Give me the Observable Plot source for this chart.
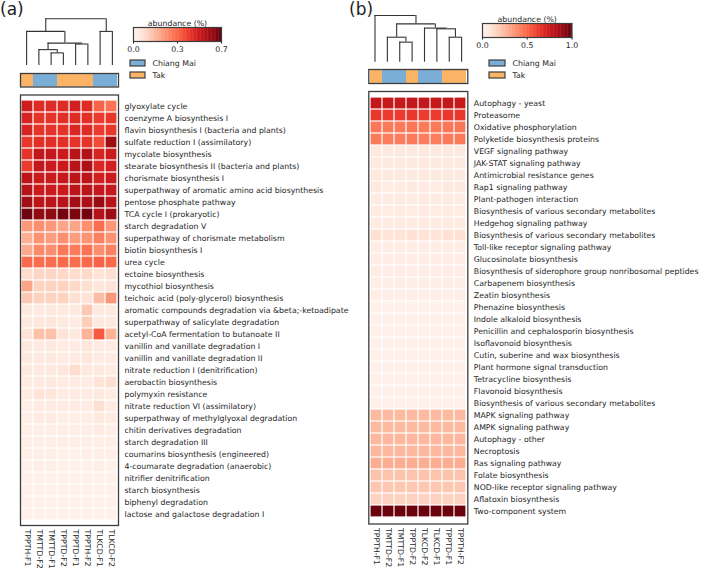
<!DOCTYPE html>
<html>
<head>
<meta charset="utf-8">
<script src="https://cdn.jsdelivr.net/npm/d3@7"></script>
<script src="https://cdn.jsdelivr.net/npm/@observablehq/plot@0.6"></script>
<style>
  body { margin: 0; background: #fff; }
  #fig { position: relative; width: 702px; height: 569px; overflow: hidden; background: #fff;
         font-family: "DejaVu Sans", sans-serif; color: #1e1e1e; }
  #fig svg { position: absolute; left: 0; top: 0; }
  .plabel { position: absolute; font-size: 17px; line-height: 1; color: #1e1e1e; }
</style>
</head>
<body>
<div id="fig">
  <div class="plabel" style="left:0px;top:1px;">(a)</div>
  <div class="plabel" style="left:349px;top:1px;">(b)</div>
</div>
<script>
// ---------------- DATA ----------------
const groupNames = ["Chiang Mai", "Tak"];
const groupColors = ["#7aaed6", "#fbb466"];

// Panel (a)
const colsA = ["TPPTH-F1","TMTTD-F2","TMTTD-F1","TPPTD-F2","TPPTD-F1","TPPTH-F2","TLKCD-F1","TLKCD-F2"];
const groupsA = ["Tak","Chiang Mai","Chiang Mai","Tak","Tak","Tak","Chiang Mai","Chiang Mai"];
const rowsA = [
  "glyoxylate cycle",
  "coenzyme A biosynthesis I",
  "flavin biosynthesis I (bacteria and plants)",
  "sulfate reduction I (assimilatory)",
  "mycolate biosynthesis",
  "stearate biosynthesis II (bacteria and plants)",
  "chorismate biosynthesis I",
  "superpathway of aromatic amino acid biosynthesis",
  "pentose phosphate pathway",
  "TCA cycle I (prokaryotic)",
  "starch degradation V",
  "superpathway of chorismate metabolism",
  "biotin biosynthesis I",
  "urea cycle",
  "ectoine biosynthesis",
  "mycothiol biosynthesis",
  "teichoic acid (poly-glycerol) biosynthesis",
  "aromatic compounds degradation via &beta;-ketoadipate",
  "superpathway of salicylate degradation",
  "acetyl-CoA fermentation to butanoate II",
  "vanillin and vanillate degradation I",
  "vanillin and vanillate degradation II",
  "nitrate reduction I (denitrification)",
  "aerobactin biosynthesis",
  "polymyxin resistance",
  "nitrate reduction VI (assimilatory)",
  "superpathway of methylglyoxal degradation",
  "chitin derivatives degradation",
  "starch degradation III",
  "coumarins biosynthesis (engineered)",
  "4-coumarate degradation (anaerobic)",
  "nitrifier denitrification",
  "starch biosynthesis",
  "biphenyl degradation",
  "lactose and galactose degradation I"
];
const valuesA = [
  [0.52,0.48,0.48,0.48,0.51,0.48,0.36,0.33],
  [0.50,0.46,0.46,0.47,0.48,0.47,0.44,0.45],
  [0.50,0.46,0.46,0.46,0.49,0.48,0.44,0.45],
  [0.45,0.47,0.47,0.47,0.46,0.46,0.41,0.62],
  [0.46,0.55,0.54,0.53,0.57,0.58,0.50,0.53],
  [0.44,0.54,0.53,0.53,0.57,0.59,0.49,0.51],
  [0.56,0.53,0.53,0.54,0.56,0.56,0.51,0.53],
  [0.57,0.53,0.53,0.53,0.56,0.56,0.54,0.54],
  [0.61,0.56,0.56,0.57,0.61,0.59,0.63,0.57],
  [0.69,0.64,0.64,0.68,0.67,0.68,0.58,0.62],
  [0.25,0.27,0.25,0.22,0.22,0.27,0.34,0.25],
  [0.20,0.26,0.24,0.27,0.24,0.26,0.30,0.26],
  [0.21,0.28,0.27,0.32,0.31,0.33,0.27,0.30],
  [0.35,0.34,0.34,0.35,0.34,0.35,0.36,0.35],
  [0.09,0.11,0.11,0.10,0.09,0.10,0.07,0.08],
  [0.22,0.12,0.12,0.12,0.10,0.08,0.06,0.07],
  [0.14,0.12,0.12,0.12,0.08,0.07,0.17,0.25],
  [0.05,0.05,0.05,0.05,0.05,0.14,0.05,0.05],
  [0.05,0.06,0.06,0.05,0.04,0.13,0.05,0.05],
  [0.07,0.16,0.16,0.07,0.05,0.19,0.38,0.19],
  [0.05,0.05,0.05,0.04,0.04,0.06,0.04,0.04],
  [0.05,0.05,0.05,0.04,0.04,0.06,0.04,0.04],
  [0.05,0.05,0.05,0.06,0.09,0.05,0.05,0.04],
  [0.04,0.05,0.05,0.04,0.04,0.04,0.07,0.08],
  [0.04,0.07,0.06,0.04,0.04,0.04,0.05,0.04],
  [0.03,0.04,0.04,0.04,0.04,0.04,0.08,0.04],
  [0.03,0.04,0.04,0.03,0.03,0.03,0.05,0.04],
  [0.03,0.03,0.03,0.03,0.03,0.03,0.04,0.03],
  [0.03,0.03,0.03,0.03,0.03,0.03,0.03,0.03],
  [0.03,0.03,0.03,0.02,0.02,0.03,0.03,0.03],
  [0.02,0.03,0.03,0.02,0.02,0.02,0.03,0.02],
  [0.02,0.02,0.02,0.02,0.02,0.02,0.02,0.02],
  [0.02,0.02,0.02,0.02,0.02,0.02,0.02,0.02],
  [0.02,0.02,0.02,0.02,0.02,0.02,0.02,0.02],
  [0.02,0.02,0.02,0.02,0.02,0.02,0.02,0.02]
];
// dendrogram (a): [left, right, height]; leaves 0..7 in column order, new clusters 8..
const linkageA = [[2,3,0.27],[1,8,0.34],[4,5,0.46],[9,10,0.48],[0,11,0.73],[6,7,0.73],[12,13,1.0]];
const colorMaxA = 0.7;
const cbTicksA = [0, 0.35, 0.7];
const cbLabelsA = ["0.0", "0.3", "0.7"];

// Panel (b)
const colsB = ["TPPTH-F1","TMTTD-F2","TMTTD-F1","TPPTD-F2","TLKCD-F2","TLKCD-F1","TPPTD-F1","TPPTH-F2"];
const groupsB = ["Tak","Chiang Mai","Chiang Mai","Tak","Chiang Mai","Chiang Mai","Tak","Tak"];
const rowsB = [
  "Autophagy - yeast",
  "Proteasome",
  "Oxidative phosphorylation",
  "Polyketide biosynthesis proteins",
  "VEGF signaling pathway",
  "JAK-STAT signaling pathway",
  "Antimicrobial resistance genes",
  "Rap1 signaling pathway",
  "Plant-pathogen interaction",
  "Biosynthesis of various secondary metabolites",
  "Hedgehog signaling pathway",
  "Biosynthesis of various secondary metabolites",
  "Toll-like receptor signaling pathway",
  "Glucosinolate biosynthesis",
  "Biosynthesis of siderophore group nonribosomal peptides",
  "Carbapenem biosynthesis",
  "Zeatin biosynthesis",
  "Phenazine biosynthesis",
  "Indole alkaloid biosynthesis",
  "Penicillin and cephalosporin biosynthesis",
  "Isoflavonoid biosynthesis",
  "Cutin, suberine and wax biosynthesis",
  "Plant hormone signal transduction",
  "Tetracycline biosynthesis",
  "Flavonoid biosynthesis",
  "Biosynthesis of various secondary metabolites",
  "MAPK signaling pathway",
  "AMPK signaling pathway",
  "Autophagy - other",
  "Necroptosis",
  "Ras signaling pathway",
  "Folate biosynthesis",
  "NOD-like receptor signaling pathway",
  "Aflatoxin biosynthesis",
  "Two-component system"
];
const valuesB = [
  [0.78,0.77,0.77,0.78,0.78,0.77,0.78,0.77],
  [0.64,0.63,0.63,0.64,0.63,0.63,0.64,0.64],
  [0.46,0.45,0.45,0.46,0.45,0.45,0.46,0.46],
  [0.45,0.44,0.44,0.45,0.44,0.44,0.45,0.45],
  [0.07,0.07,0.07,0.07,0.07,0.07,0.07,0.07],
  [0.07,0.07,0.07,0.07,0.07,0.07,0.07,0.07],
  [0.07,0.07,0.07,0.07,0.07,0.07,0.07,0.07],
  [0.07,0.06,0.06,0.07,0.06,0.06,0.07,0.07],
  [0.06,0.06,0.06,0.06,0.06,0.06,0.06,0.06],
  [0.06,0.06,0.06,0.06,0.06,0.06,0.06,0.06],
  [0.06,0.06,0.06,0.06,0.06,0.06,0.06,0.06],
  [0.11,0.10,0.10,0.11,0.10,0.10,0.11,0.11],
  [0.05,0.05,0.05,0.05,0.05,0.05,0.05,0.05],
  [0.05,0.05,0.05,0.05,0.05,0.05,0.05,0.05],
  [0.05,0.05,0.05,0.05,0.05,0.05,0.05,0.05],
  [0.04,0.04,0.04,0.04,0.04,0.04,0.04,0.04],
  [0.04,0.04,0.04,0.04,0.04,0.04,0.04,0.04],
  [0.03,0.03,0.03,0.03,0.03,0.03,0.03,0.03],
  [0.03,0.03,0.03,0.03,0.03,0.03,0.03,0.03],
  [0.03,0.03,0.03,0.03,0.03,0.03,0.03,0.03],
  [0.03,0.03,0.03,0.03,0.03,0.03,0.03,0.03],
  [0.03,0.03,0.03,0.03,0.03,0.03,0.03,0.03],
  [0.03,0.03,0.03,0.03,0.03,0.03,0.03,0.03],
  [0.03,0.03,0.03,0.03,0.03,0.03,0.03,0.03],
  [0.03,0.03,0.03,0.03,0.03,0.03,0.03,0.03],
  [0.03,0.03,0.03,0.03,0.03,0.03,0.03,0.03],
  [0.25,0.25,0.25,0.25,0.25,0.25,0.25,0.25],
  [0.25,0.25,0.25,0.25,0.25,0.25,0.25,0.25],
  [0.26,0.26,0.26,0.26,0.26,0.26,0.26,0.26],
  [0.26,0.26,0.26,0.26,0.26,0.26,0.26,0.26],
  [0.29,0.29,0.29,0.29,0.29,0.29,0.29,0.29],
  [0.22,0.22,0.22,0.22,0.22,0.22,0.22,0.22],
  [0.21,0.21,0.21,0.21,0.21,0.21,0.21,0.21],
  [0.17,0.17,0.17,0.17,0.17,0.17,0.17,0.17],
  [0.99,0.99,0.99,0.99,0.99,0.99,0.99,0.99]
];
const linkageB = [[2,3,0.43],[1,8,0.535],[6,7,0.535],[5,10,0.715],[4,11,0.73],[9,12,0.82],[0,13,1.0]];
const colorMaxB = 1.0;
const cbTicksB = [0, 0.5, 1.0];
const cbLabelsB = ["0.0", "0.5", "1.0"];

// ---------------- LAYOUT ----------------
const W = 702, H = 569;
const FONT = "'DejaVu Sans', sans-serif";
const FS = "7.8px";
const INK = "#1e1e1e";

const layoutA = {
  heat: {x0: 20, x1: 118, y0: 94.5, y1: 525},
  group: {y0: 73, y1: 86.5},
  dendro: {top: 18.3, bottom: 65},
  cbar: {x0: 133, x1: 221, y0: 27, y1: 41},
  legend: {x0: 130, x1: 145, y0: 57, y1: 81}
};
const layoutB = {
  heat: {x0: 368.3, x1: 467.3, y0: 91, y1: 523.5},
  group: {y0: 69, y1: 83},
  dendro: {top: 15, bottom: 61.7},
  cbar: {x0: 482, x1: 571.5, y0: 23, y1: 37},
  legend: {x0: 489, x1: 505, y0: 57, y1: 81}
};

const fig = document.getElementById("fig");
function add(svg) { fig.appendChild(svg); }
function base(box) {
  return {
    width: W, height: H,
    marginLeft: box.x0, marginRight: W - box.x1,
    marginTop: box.y0, marginBottom: H - box.y1,
    style: {background: "none", fontFamily: FONT, fontSize: FS, color: INK, overflow: "visible"}
  };
}

function heatmap(cols, rows, values, cmax, L) {
  const data = rows.flatMap((r, i) => cols.map((c, j) => ({row: i, col: c, v: values[i][j]})));
  return Plot.plot({
    ...base(L.heat),
    x: {type: "band", domain: cols, padding: 0, axis: "bottom", tickRotate: 90, tickSize: 0, tickPadding: 4, label: null},
    y: {type: "band", domain: d3.range(rows.length), padding: 0, axis: "right", tickSize: 0, tickPadding: 6,
        tickFormat: i => rows[i], label: null},
    color: {type: "linear", scheme: "reds", domain: [0, cmax], clamp: true},
    marks: [
      Plot.cell(data, {x: "col", y: "row", fill: "v", inset: 0.6}),
      Plot.frame({stroke: "#3c3c3c", strokeWidth: 1.3})
    ]
  });
}

function groupBar(cols, groups, L) {
  const box = {x0: L.heat.x0, x1: L.heat.x1, y0: L.group.y0, y1: L.group.y1};
  return Plot.plot({
    ...base(box),
    x: {type: "band", domain: cols, padding: 0, axis: null},
    color: {domain: groupNames, range: groupColors},
    marks: [
      Plot.cell(cols.map((c, i) => ({col: c, g: groups[i]})), {x: "col", fill: "g"}),
      Plot.frame({stroke: "#3c3c3c", strokeWidth: 1.3})
    ]
  });
}

function dendrogram(n, linkage, L) {
  const nodes = d3.range(n).map(i => ({x: i + 0.5, h: 0}));
  const verts = [], hors = [];
  for (const [a, b, h] of linkage) {
    const A = nodes[a], B = nodes[b];
    verts.push({x: A.x, y1: A.h, y2: h}, {x: B.x, y1: B.h, y2: h});
    hors.push({y: h, x1: A.x, x2: B.x});
    nodes.push({x: (A.x + B.x) / 2, h});
  }
  const box = {x0: L.heat.x0, x1: L.heat.x1, y0: L.dendro.top, y1: L.dendro.bottom};
  return Plot.plot({
    ...base(box),
    x: {type: "linear", domain: [0, n], axis: null},
    y: {type: "linear", domain: [0, d3.max(linkage, d => d[2])], axis: null},
    marks: [
      Plot.ruleX(verts, {x: "x", y1: "y1", y2: "y2", stroke: "#333", strokeWidth: 1.1}),
      Plot.ruleY(hors, {y: "y", x1: "x1", x2: "x2", stroke: "#333", strokeWidth: 1.1})
    ]
  });
}

function colorbar(cmax, ticks, labels, L) {
  const N = 64;
  const stripes = d3.range(N).map(i => ({a: i / N * cmax, b: (i + 1) / N * cmax}));
  const lab = new Map(ticks.map((t, i) => [t, labels[i]]));
  return Plot.plot({
    ...base(L.cbar),
    x: {type: "linear", domain: [0, cmax], ticks: ticks, tickFormat: d => lab.get(d), tickSize: 2.5, tickPadding: 2, label: null},
    color: {type: "linear", scheme: "reds", domain: [0, cmax]},
    marks: [
      Plot.rect(stripes, {x1: "a", x2: d => d.b + cmax / N * 0.3, fill: d => (d.a + d.b) / 2}),
      Plot.frame({stroke: "#3c3c3c", strokeWidth: 1.2}),
      Plot.text(["abundance (%)"], {text: d => d, frameAnchor: "top", dy: -7.5, fill: INK})
    ]
  });
}

function groupLegend(L) {
  return Plot.plot({
    ...base(L.legend),
    x: {axis: null},
    y: {type: "band", domain: groupNames, paddingInner: 0.5, paddingOuter: 0.25, axis: null},
    color: {domain: groupNames, range: groupColors},
    marks: [
      Plot.cell(groupNames, {y: d => d, fill: d => d, stroke: "#3c3c3c", strokeWidth: 1.2}),
      Plot.text(groupNames, {y: d => d, text: d => d, frameAnchor: "right", textAnchor: "start", dx: 7, fill: INK})
    ]
  });
}

for (const [cols, groups, rows, vals, cmax, link, ticks, labels, L] of [
  [colsA, groupsA, rowsA, valuesA, colorMaxA, linkageA, cbTicksA, cbLabelsA, layoutA],
  [colsB, groupsB, rowsB, valuesB, colorMaxB, linkageB, cbTicksB, cbLabelsB, layoutB]
]) {
  add(heatmap(cols, rows, vals, cmax, L));
  add(groupBar(cols, groups, L));
  add(dendrogram(cols.length, link, L));
  add(colorbar(cmax, ticks, labels, L));
  add(groupLegend(L));
}
</script>
</body>
</html>
